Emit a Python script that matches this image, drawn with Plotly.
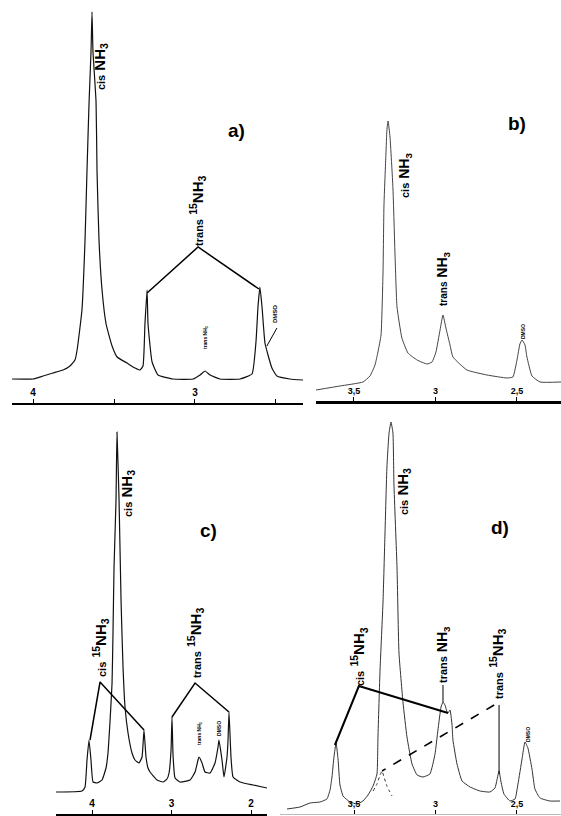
import plotly.graph_objects as go

# ---------------- data (ppm, relative intensity) ----------------
# a)
a_ppm = [4.130, 4.000, 3.938, 3.877, 3.815, 3.772, 3.741, 3.728, 3.698, 3.679, 3.667, 3.654, 3.642,
         3.636, 3.630, 3.611, 3.605, 3.593, 3.574, 3.549, 3.512, 3.481, 3.420, 3.370, 3.340, 3.321,
         3.309, 3.296, 3.290, 3.265, 3.228, 3.136, 3.012, 2.969, 2.938, 2.907, 2.846, 2.722, 2.648,
         2.623, 2.611, 2.599, 2.586, 2.568, 2.549, 2.525, 2.494, 2.414, 2.333]
a_int = [24, 24, 27, 30, 33, 37, 43, 53, 93, 163, 232, 301, 352,
         391, 352, 301, 232, 164, 113, 79, 57, 46, 40, 35, 33, 37,
         79, 113, 79, 41, 28, 24, 24, 28, 32, 28, 24, 24, 29,
         62, 96, 116, 96, 60, 48, 35, 27, 24, 23]

# b)
b_ppm = [3.733, 3.586, 3.445, 3.402, 3.371, 3.353, 3.334, 3.322, 3.316, 3.304, 3.298, 3.291, 3.279,
         3.261, 3.248, 3.236, 3.206, 3.169, 3.113, 3.052, 3.021, 2.997, 2.972, 2.954, 2.936, 2.911,
         2.893, 2.807, 2.684, 2.561, 2.525, 2.500, 2.482, 2.469, 2.451, 2.439, 2.408, 2.359, 2.230]
b_int = [11, 15, 19, 25, 36, 49, 66, 128, 196, 247, 271, 280, 264,
         213, 145, 94, 63, 48, 41, 37, 39, 49, 71, 86, 73, 56,
         44, 31, 26, 23, 24, 41, 57, 61, 56, 44, 25, 19, 19]

# c)
c_ppm = [4.453, 4.126, 4.088, 4.063, 4.038, 4.013, 3.987, 3.937, 3.874, 3.824, 3.799, 3.774, 3.748,
         3.736, 3.723, 3.698, 3.686, 3.660, 3.635, 3.610, 3.585, 3.547, 3.497, 3.459, 3.409, 3.371,
         3.346, 3.321, 3.296, 3.270, 3.182, 3.107, 3.057, 3.031, 3.006, 2.994, 2.981, 2.956, 2.893,
         2.767, 2.704, 2.667, 2.654, 2.616, 2.579, 2.516, 2.453, 2.415, 2.403, 2.365, 2.340, 2.302,
         2.289, 2.277, 2.252, 2.226, 2.138, 1.975, 1.799]
c_int = [22, 23, 27, 54, 74, 54, 32, 31, 34, 46, 61, 92, 131,
         181, 247, 314, 382, 314, 214, 147, 107, 81, 61, 54, 51, 57,
         84, 57, 46, 42, 34, 32, 35, 41, 64, 97, 59, 36, 32,
         34, 42, 54, 57, 51, 42, 41, 51, 67, 74, 54, 37, 57,
         74, 102, 57, 37, 32, 29, 26]

# d)
d_ppm = [3.911, 3.831, 3.770, 3.709, 3.666, 3.647, 3.635, 3.623, 3.610, 3.598, 3.586, 3.567, 3.525,
         3.482, 3.445, 3.414, 3.383, 3.359, 3.353, 3.340, 3.322, 3.310, 3.298, 3.285, 3.273, 3.261,
         3.255, 3.236, 3.224, 3.199, 3.175, 3.144, 3.113, 3.077, 3.034, 3.003, 2.985, 2.966, 2.954,
         2.942, 2.929, 2.923, 2.911, 2.899, 2.893, 2.868, 2.837, 2.788, 2.727, 2.666, 2.635, 2.623,
         2.610, 2.598, 2.580, 2.543, 2.512, 2.494, 2.469, 2.451, 2.433, 2.408, 2.390, 2.359, 2.298, 2.236]
d_int = [5, 7, 11, 12, 15, 24, 37, 57, 71, 55, 29, 18, 12,
         10, 13, 19, 28, 40, 77, 145, 212, 280, 347, 381, 392, 381,
         330, 246, 161, 111, 77, 50, 39, 37, 40, 60, 84, 107, 112,
         109, 102, 101, 104, 90, 74, 50, 33, 27, 23, 22, 26, 34,
         43, 32, 20, 13, 15, 30, 55, 72, 66, 45, 25, 16, 13, 13]
# dotted trans 15NH3 component hidden under cis NH3 (d)
d_dot_ppm = [3.383, 3.359, 3.340, 3.328, 3.316, 3.298, 3.267]
d_dot_int = [23, 30, 39, 43, 37, 28, 18]

# tick labels
a_ticks, a_ticktext = [4, 3], ["4", "3"]
b_ticks, b_ticktext = [3.5, 3, 2.5], ["3,5", "3", "2,5"]
c_ticks, c_ticktext = [4, 3, 2], ["4", "3", "2"]
d_ticks, d_ticktext = [3.5, 3, 2.5], ["3,5", "3", "2,5"]

# assignment connector lines (ppm, intensity)
a_link_ppm, a_link_int = [3.296, 2.981, 2.605], [110, 156, 114]
a_dmso_ppm, a_dmso_int = [2.494, 2.556], [75, 57]
c_cis_link_ppm, c_cis_link_int = [4.025, 3.899, 3.346], [74, 132, 84]
c_tr_link_ppm, c_tr_link_int = [2.994, 2.704, 2.277], [97, 131, 102]
d_cis_link_ppm, d_cis_link_int = [3.617, 3.470, 2.923], [69, 128, 101]
d_trNH3_ppm, d_trNH3_int = [2.954, 2.954], [129, 112]
d_tr15_ppm, d_tr15_int = [2.610, 2.610], [109, 40]
d_dash_ppm, d_dash_int = [2.640, 3.328], [109, 43]

FONT = "Liberation Sans, Arial, sans-serif"
W, H = 561, 816

fig = go.Figure()

def line(x, y, ax, width=1.2, color="black", dash=None):
    fig.add_trace(go.Scatter(x=x, y=y, mode="lines", xaxis=ax[0], yaxis=ax[1],
                             line=dict(color=color, width=width, dash=dash, shape="spline",
                                       smoothing=0.4),
                             hoverinfo="skip", showlegend=False))

def seg(x, y, ax, width=1.4, color="black", dash=None):
    fig.add_trace(go.Scatter(x=x, y=y, mode="lines", xaxis=ax[0], yaxis=ax[1],
                             line=dict(color=color, width=width, dash=dash),
                             hoverinfo="skip", showlegend=False))

A, B, C, D = ("x", "y"), ("x2", "y2"), ("x3", "y3"), ("x4", "y4")

line(a_ppm, a_int, A, 1.2, "#111")
line(b_ppm, b_int, B, 1.0, "#444")
line(c_ppm, c_int, C, 1.2, "#111")
line(d_ppm, d_int, D, 1.0, "#333")
line(d_dot_ppm, d_dot_int, D, 1.0, "#333", "dot")

seg(a_link_ppm, a_link_int, A, 1.5)
seg(a_dmso_ppm, a_dmso_int, A, 1.0)
seg(c_cis_link_ppm, c_cis_link_int, C, 1.5)
seg(c_tr_link_ppm, c_tr_link_int, C, 1.5)
seg(d_cis_link_ppm, d_cis_link_int, D, 2.0)
seg(d_trNH3_ppm, d_trNH3_int, D, 1.0)
seg(d_tr15_ppm, d_tr15_int, D, 1.0)
seg(d_dash_ppm, d_dash_int, D, 1.6, "black", "dash")

def px(x):
    return x / W

def py(y):
    return 1 - y / H

def xax(x0, x1, rng, tv, tt, lw, lc="black", fs=10, minor=None):
    d = dict(domain=[px(x0), px(x1)], range=rng, showgrid=False, zeroline=False,
             showline=True, linecolor=lc, linewidth=lw, ticks="inside", ticklen=4,
             tickwidth=1, tickcolor="black", tickvals=tv, ticktext=tt,
             ticklabelposition="inside",
             tickfont=dict(family=FONT, size=fs, color="black", weight="bold"),
             fixedrange=True)
    if minor:
        d["minor"] = dict(tick0=0, dtick=minor, ticks="inside", ticklen=4, tickwidth=1,
                          tickcolor="black", showgrid=False)
    return d

def yax(y_axis_px, y_top_px, anchor):
    return dict(domain=[py(y_axis_px), py(y_top_px)], range=[0, y_axis_px - y_top_px],
                visible=False, fixedrange=True, anchor=anchor)

fig.update_layout(
    width=W, height=H, margin=dict(l=0, r=0, t=0, b=0),
    paper_bgcolor="white", plot_bgcolor="rgba(0,0,0,0)", showlegend=False,
    xaxis=dict(xax(12, 303, [4.130, 2.333], a_ticks, a_ticktext, 1.5, minor=0.5), anchor="y"),
    yaxis=yax(403, 0, "x"),
    xaxis2=dict(xax(316, 561, [3.733, 2.230], b_ticks, b_ticktext, 2.5, fs=9), anchor="y2"),
    yaxis2=yax(401, 0, "x2"),
    xaxis3=dict(xax(56, 267, [4.453, 1.799], c_ticks, c_ticktext, 2.0), anchor="y3"),
    yaxis3=yax(814, 400, "x3"),
    xaxis4=dict(xax(280, 561, [3.954, 2.230], d_ticks, d_ticktext, 1.0, "#bbbbbb", fs=9), anchor="y4"),
    yaxis4=yax(814, 400, "x4"),
)

def label(text, x, y, ax, size=14, angle=-90):
    fig.add_annotation(text=text, x=x, y=y, xref=ax[0], yref=ax[1], showarrow=False,
                       textangle=angle, xanchor="center", yanchor="middle",
                       font=dict(family=FONT, size=size, color="black"))

def sm(t, s):
    return "<span style='font-size:%dpx'>%s</span>" % (s, t)

NH3 = "NH<sub>3</sub>"
N15 = "<sup>15</sup>NH<sub>3</sub>"

# a)
label("<b>%s %s</b>" % (sm("cis", 11), NH3), 3.586, 336, A, 15)
label("<b>a)</b>", 2.741, 273, A, 19, 0)
label("<b>%s %s</b>" % (sm("trans", 11), N15), 2.988, 192, A, 15)
label("<b>trans NH<sub>3</sub></b>", 2.938, 65, A, 5)
label("<b>DMSO</b>", 2.506, 89, A, 6)

# b)
label("<b>b)</b>", 2.50, 278, B, 19, 0)
label("<b>%s %s</b>" % (sm("cis", 11), NH3), 3.187, 225, B, 14)
label("<b>%s %s</b>" % (sm("trans", 10), NH3), 2.954, 123, B, 14)
label("<b>DMSO</b>", 2.463, 69, B, 5)

# c)
label("<b>%s %s</b>" % (sm("cis", 11), NH3), 3.560, 320, C, 15)
label("<b>c)</b>", 2.541, 284, C, 19, 0)
label("<b>%s %s</b>" % (sm("cis", 11), N15), 3.899, 166, C, 15)
label("<b>%s %s</b>" % (sm("trans", 11), N15), 2.704, 171, C, 15)
label("<b>trans NH<sub>3</sub></b>", 2.654, 80, C, 5)
label("<b>DMSO</b>", 2.403, 86, C, 5)

# d)
label("<b>%s %s</b>" % (sm("cis", 11), NH3), 3.199, 322, D, 15)
label("<b>d)</b>", 2.604, 287, D, 19, 0)
label("<b>%s %s</b>" % (sm("cis", 11), N15), 3.475, 157, D, 15)
label("<b>%s %s</b>" % (sm("trans", 11), NH3), 2.954, 160, D, 14)
label("<b>%s %s</b>" % (sm("trans", 11), N15), 2.623, 150, D, 15)
label("<b>DMSO</b>", 2.433, 80, D, 5)

fig.write_html("out.html", config={"displayModeBar": False},
               post_script="document.body.style.margin='0';")
